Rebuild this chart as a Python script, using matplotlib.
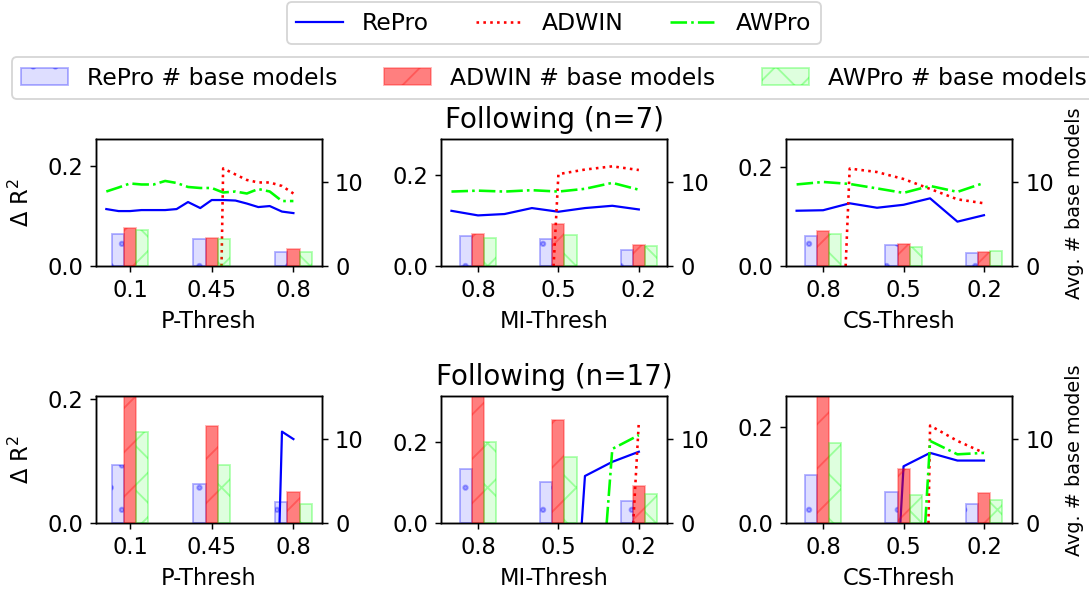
import matplotlib.pyplot as plt

thresh_names = ["P-Thresh", "MI-Thresh", "CS-Thresh"]
thresh_ticks = [["0.1", "0.45", "0.8"], ["0.8", "0.5", "0.2"], ["0.8", "0.5", "0.2"]]
titles = ["Following (n=7)", "Following (n=17)"]

# avg # base models, [row][col][threshold]
repro_models = [[[3.87, 3.20, 1.66], [3.57, 3.25, 1.94], [3.52, 2.49, 1.58]],
                [[6.84, 4.62, 2.57], [6.36, 4.94, 2.69], [5.69, 3.72, 2.25]]]
adwin_models = [[[4.55, 3.32, 2.09], [3.81, 4.96, 2.46], [4.11, 2.61, 1.74]],
                [[18.0, 11.46, 3.75], [17.0, 12.25, 4.39], [17.0, 6.44, 3.56]]]
awpro_models = [[[4.27, 3.24, 1.70], [3.37, 3.69, 2.34], [3.79, 2.29, 1.82]],
                [[10.75, 6.84, 2.25], [9.60, 7.87, 3.52], [9.45, 3.40, 2.73]]]

# delta R^2 lines, x in threshold units (0, 1, 2)
x_sevenths = [-0.29, -0.14, 0.0, 0.14, 0.29, 0.43, 0.57, 0.71, 0.86,
              1.0, 1.14, 1.29, 1.43, 1.57, 1.71, 1.86, 2.0]
x_thirds = [-0.33, 0.0, 0.33, 0.67, 1.0, 1.33, 1.67, 2.0]

# n=7, P-Thresh
repro_p7 = [0.114, 0.110, 0.110, 0.112, 0.112, 0.112, 0.114, 0.128, 0.116,
            0.132, 0.132, 0.131, 0.125, 0.118, 0.120, 0.109, 0.106]
awpro_p7 = [0.149, 0.157, 0.165, 0.163, 0.163, 0.170, 0.166, 0.158, 0.156,
            0.156, 0.147, 0.149, 0.145, 0.154, 0.149, 0.130, 0.130]
adwin_p7_x = [1.12, 1.14, 1.29, 1.43, 1.57, 1.71, 1.86, 2.0]
adwin_p7 = [0.0, 0.195, 0.183, 0.172, 0.167, 0.167, 0.160, 0.145]

# n=7, MI-Thresh
repro_mi7 = [0.121, 0.111, 0.114, 0.127, 0.119, 0.127, 0.132, 0.124]
awpro_mi7 = [0.163, 0.165, 0.163, 0.166, 0.163, 0.169, 0.182, 0.167]
adwin_mi7_x = [0.94, 1.0, 1.33, 1.67, 2.0]
adwin_mi7 = [0.0, 0.201, 0.211, 0.218, 0.210]

# n=7, CS-Thresh
repro_cs7 = [0.112, 0.113, 0.127, 0.118, 0.124, 0.137, 0.090, 0.103]
awpro_cs7 = [0.165, 0.170, 0.166, 0.157, 0.148, 0.162, 0.150, 0.168]
adwin_cs7_x = [0.28, 0.33, 0.67, 1.0, 1.33, 1.67, 2.0]
adwin_cs7 = [0.0, 0.197, 0.190, 0.176, 0.156, 0.135, 0.127]

# n=17, P-Thresh
repro_p17_x = [1.83, 1.86, 2.0]
repro_p17 = [0.0, 0.148, 0.136]

# n=17, MI-Thresh
repro_mi17_x = [1.29, 1.33, 1.67, 2.0]
repro_mi17 = [0.0, 0.117, 0.152, 0.177]
awpro_mi17_x = [1.60, 1.67, 2.0]
awpro_mi17 = [0.0, 0.184, 0.218]
adwin_mi17_x = [1.93, 2.0]
adwin_mi17 = [0.0, 0.251]

# n=17, CS-Thresh
repro_cs17_x = [0.96, 1.0, 1.33, 1.67, 2.0]
repro_cs17 = [0.0, 0.119, 0.147, 0.131, 0.131]
awpro_cs17_x = [1.27, 1.33, 1.67, 2.0]
awpro_cs17 = [0.0, 0.172, 0.144, 0.147]
adwin_cs17_x = [1.31, 1.33, 1.67, 2.0]
adwin_cs17 = [0.0, 0.204, 0.172, 0.147]

lines = [
    [{"RePro": (x_sevenths, repro_p7), "ADWIN": (adwin_p7_x, adwin_p7), "AWPro": (x_sevenths, awpro_p7)},
     {"RePro": (x_thirds, repro_mi7), "ADWIN": (adwin_mi7_x, adwin_mi7), "AWPro": (x_thirds, awpro_mi7)},
     {"RePro": (x_thirds, repro_cs7), "ADWIN": (adwin_cs7_x, adwin_cs7), "AWPro": (x_thirds, awpro_cs7)}],
    [{"RePro": (repro_p17_x, repro_p17)},
     {"RePro": (repro_mi17_x, repro_mi17), "ADWIN": (adwin_mi17_x, adwin_mi17), "AWPro": (awpro_mi17_x, awpro_mi17)},
     {"RePro": (repro_cs17_x, repro_cs17), "ADWIN": (adwin_cs17_x, adwin_cs17), "AWPro": (awpro_cs17_x, awpro_cs17)}],
]
ylims = [[0.253, 0.277, 0.256], [0.205, 0.314, 0.265]]

line_style = {"RePro": dict(color="blue", ls="-", lw=1.2),
              "ADWIN": dict(color="red", ls=":", lw=1.4),
              "AWPro": dict(color="lime", ls="-.", lw=1.4)}
bar_style = [("RePro", repro_models, (0, 0, 1, 0.13), (0, 0, 1, 0.3), "."),
             ("ADWIN", adwin_models, (1, 0, 0, 0.5), (1, 0, 0, 0.3), "/"),
             ("AWPro", awpro_models, (0, 1, 0, 0.13), (0, 1, 0, 0.3), "x")]

plt.rcParams["font.size"] = 12.2
fig, axes = plt.subplots(2, 3, figsize=(1089 / 133, 591 / 133), dpi=133)
fig.subplots_adjust(left=0.0882, right=0.9296, top=0.7643, bottom=0.1145,
                    wspace=0.527, hspace=1.024)

w = 0.15
line_handles = {}
bar_handles = {}
for r in range(2):
    for c in range(3):
        ax = axes[r, c]
        ax2 = ax.twinx()
        for name, (xs, ys) in lines[r][c].items():
            h, = ax.plot(xs, ys, **line_style[name])
            line_handles[name] = h
        for i, (name, vals, fc, ec, hatch) in enumerate(bar_style):
            pos = [k + (i - 1) * w for k in range(3)]
            b = ax2.bar(pos, vals[r][c], width=w, facecolor=fc, edgecolor=ec,
                        hatch=hatch, linewidth=1.0)
            bar_handles[name] = b
        ax.set_ylim(0, ylims[r][c])
        ax.set_yticks([0, 0.2])
        ax.set_yticklabels(["0.0", "0.2"])
        ax2.set_ylim(0, 15)
        ax2.set_yticks([0, 10])
        ax.set_xticks([0, 1, 2])
        ax.set_xticklabels(thresh_ticks[c])
        ax.set_xlabel(thresh_names[c])
        if c == 0:
            ax.set_ylabel(r"$\Delta$ R$^2$", labelpad=7)
        if c == 2:
            ax2.set_ylabel("Avg. # base models", fontsize=10.4, labelpad=6)
        if c == 1:
            ax.set_title(titles[r], fontsize=15)

for c in range(3):
    axes[1, c].set_xlim(axes[0, c].get_xlim())

names = ["RePro", "ADWIN", "AWPro"]
fig.legend([line_handles[n] for n in names], names, ncol=3, fontsize=12.7,
           loc="upper center", bbox_to_anchor=(0.5086, 1.0), borderaxespad=0.1)
fig.legend([bar_handles[n] for n in names], [n + " # base models" for n in names],
           ncol=3, fontsize=12.7, loc="upper center",
           bbox_to_anchor=(0.5086, 0.907), borderaxespad=0.1)

fig.savefig("out.png", dpi=133)
